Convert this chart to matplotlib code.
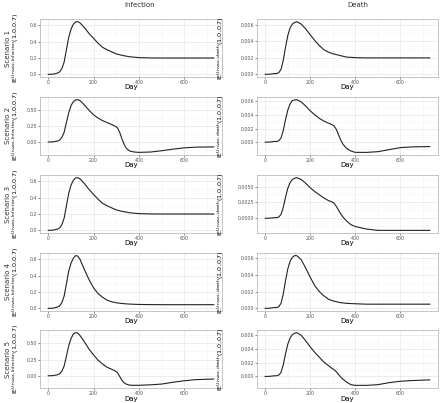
import matplotlib
matplotlib.use("Agg")
import matplotlib.pyplot as plt
from matplotlib.ticker import MultipleLocator, FixedLocator

days_a = [0, 20, 40, 50, 60, 70, 80, 90, 100, 110, 120, 130, 140, 160, 180, 200,
          220, 240, 260, 280, 300, 330, 360, 400, 450, 500, 600, 730]
days_b = [0, 20, 40, 50, 60, 70, 80, 90, 100, 110, 120, 130, 140, 160, 180, 200,
          220, 240, 260, 280, 295, 305, 315, 325, 335, 345, 360, 380, 400, 450,
          500, 550, 600, 650, 730]

inf_s1 = [0, 0.002, 0.015, 0.03, 0.07, 0.15, 0.30, 0.45, 0.55, 0.61, 0.64, 0.645,
          0.63, 0.57, 0.50, 0.44, 0.38, 0.33, 0.30, 0.275, 0.25, 0.23, 0.215,
          0.205, 0.201, 0.2, 0.2, 0.2]
inf_s3 = [0, 0.002, 0.015, 0.03, 0.07, 0.15, 0.30, 0.45, 0.55, 0.61, 0.64, 0.645,
          0.63, 0.57, 0.50, 0.44, 0.38, 0.33, 0.30, 0.275, 0.25, 0.23, 0.215,
          0.205, 0.201, 0.2, 0.2, 0.2]
inf_s4 = [0, 0.002, 0.015, 0.03, 0.07, 0.15, 0.30, 0.45, 0.55, 0.61, 0.645, 0.64,
          0.60, 0.47, 0.35, 0.25, 0.18, 0.135, 0.10, 0.08, 0.068, 0.058, 0.052,
          0.048, 0.046, 0.045, 0.045, 0.045]
inf_s2 = [0, 0.002, 0.015, 0.03, 0.07, 0.15, 0.30, 0.45, 0.56, 0.62, 0.65, 0.655,
          0.64, 0.57, 0.49, 0.42, 0.37, 0.33, 0.30, 0.27, 0.245, 0.22, 0.15, 0.05,
          -0.04, -0.10, -0.14, -0.155, -0.16, -0.155, -0.135, -0.11, -0.09,
          -0.08, -0.075]
inf_s5 = [0, 0.002, 0.015, 0.03, 0.07, 0.15, 0.30, 0.46, 0.57, 0.64, 0.665, 0.66,
          0.62, 0.52, 0.41, 0.32, 0.24, 0.18, 0.13, 0.10, 0.075, 0.05, -0.01,
          -0.07, -0.11, -0.13, -0.145, -0.148, -0.147, -0.14, -0.128, -0.10,
          -0.077, -0.06, -0.05]

dth_s1 = [0, 0.00002, 0.0001, 0.0001, 0.0002, 0.0006, 0.0017, 0.0033, 0.0047,
          0.0056, 0.0061, 0.0063, 0.0064, 0.0061, 0.0055, 0.0048, 0.0041, 0.0035,
          0.0030, 0.0027, 0.0025, 0.0023, 0.0021, 0.00203, 0.002, 0.002, 0.002,
          0.002]
dth_s4 = [0, 0.00002, 0.0001, 0.0001, 0.0002, 0.0006, 0.0017, 0.0033, 0.0047,
          0.0056, 0.0061, 0.0063, 0.0063, 0.0058, 0.0048, 0.0037, 0.0027, 0.0020,
          0.0015, 0.0011, 0.0009, 0.0007, 0.0006, 0.00055, 0.0005, 0.0005,
          0.0005, 0.0005]
dth_s2 = [0, 0.00002, 0.0001, 0.0001, 0.0002, 0.0006, 0.0017, 0.0033, 0.0047,
          0.0056, 0.0061, 0.0062, 0.00625, 0.0059, 0.0053, 0.0046, 0.0040, 0.0035,
          0.0031, 0.0028, 0.0026, 0.0024, 0.0019, 0.0011, 0.0003, -0.0003,
          -0.0009, -0.0013, -0.0015, -0.0015, -0.0014, -0.0011, -0.0008,
          -0.0007, -0.00065]
dth_s3 = [0, 0.00002, 0.0001, 0.0001, 0.0002, 0.0006, 0.0017, 0.0033, 0.0047,
          0.0056, 0.0061, 0.0063, 0.0064, 0.0061, 0.0055, 0.0048, 0.0042, 0.0037,
          0.0032, 0.0028, 0.0026, 0.0024, 0.0019, 0.0013, 0.0007, 0.0002,
          -0.0004, -0.0010, -0.0013, -0.0017, -0.0019, -0.0019, -0.0019,
          -0.0019, -0.0019]
dth_s5 = [0, 0.00002, 0.0001, 0.0001, 0.0002, 0.0006, 0.0017, 0.0033, 0.0047,
          0.0056, 0.0061, 0.0063, 0.0064, 0.0060, 0.0052, 0.0043, 0.0035, 0.0028,
          0.0021, 0.0016, 0.0012, 0.0010, 0.0007, 0.0003, -0.0001, -0.0004,
          -0.0008, -0.0012, -0.0013, -0.0013, -0.0012, -0.0009, -0.0007,
          -0.0006, -0.0005]

scenarios = ["Scenario 1", "Scenario 2", "Scenario 3", "Scenario 4", "Scenario 5"]
infection = [(days_a, inf_s1), (days_b, inf_s2), (days_a, inf_s3), (days_a, inf_s4), (days_b, inf_s5)]
death = [(days_a, dth_s1), (days_b, dth_s2), (days_b, dth_s3), (days_a, dth_s4), (days_b, dth_s5)]
inf_ticks = [[0, 0.2, 0.4, 0.6], [0, 0.25, 0.5], [0, 0.2, 0.4, 0.6], [0, 0.2, 0.4, 0.6], [0, 0.25, 0.5]]
inf_fmt = ["%.1f", "%.2f", "%.1f", "%.1f", "%.2f"]
dth_ticks = [[0, 0.002, 0.004, 0.006], [0, 0.002, 0.004, 0.006], [0, 0.0025, 0.005],
             [0, 0.002, 0.004, 0.006], [0, 0.002, 0.004, 0.006]]
dth_fmt = ["%.3f", "%.3f", "%.4f", "%.3f", "%.3f"]

W, H = 440, 403
fig = plt.figure(figsize=(W / 100, H / 100), dpi=100)

tops = [19, 97, 175, 253, 330]
ph = 58
cols = [(40, 222), (257, 438)]
label_x = [21, 226]


def style(ax, ticks, fmt):
    ax.set_facecolor("white")
    for s in ax.spines.values():
        s.set_color("#BBBBBB")
        s.set_linewidth(0.6)
    ax.set_xlim(-36.5, 766.5)
    ax.xaxis.set_major_locator(FixedLocator([0, 200, 400, 600]))
    ax.xaxis.set_minor_locator(FixedLocator([100, 300, 500, 700]))
    ax.yaxis.set_major_locator(FixedLocator(ticks))
    step = ticks[1] - ticks[0]
    ax.yaxis.set_minor_locator(MultipleLocator(step / 2))
    ax.set_yticklabels([fmt % t for t in ticks])
    ax.set_xticklabels(["0", "200", "400", "600"])
    ax.grid(True, which="major", color="#E6E6E6", lw=0.5)
    ax.grid(True, which="minor", color="#F3F3F3", lw=0.4)
    ax.set_axisbelow(True)
    ax.tick_params(which="major", length=1.5, width=0.5, color="#555555",
                   labelsize=3.4, labelcolor="#555555", pad=0.6)
    ax.tick_params(which="minor", length=0)
    ax.set_xlabel("Day", fontsize=5.0)


for i in range(5):
    for j, (data, ticks, fmts, name) in enumerate([
            (infection, inf_ticks, inf_fmt, "Infection"),
            (death, dth_ticks, dth_fmt, "death")]):
        x0, x1 = cols[j]
        top = tops[i]
        ax = fig.add_axes([x0 / W, 1 - (top + ph) / H, (x1 - x0) / W, ph / H])
        d, v = data[i]
        ax.plot(d, v, color="#222222", lw=0.8)
        lo, hi = min(v), max(v)
        pad = (hi - lo) * 0.05
        ax.set_ylim(lo - pad, hi + pad)
        style(ax, ticks[i], fmts[i])
        ax.xaxis.set_label_coords((x0 + x1) / 2 / W, 1 - (top + ph + 7.5) / H,
                                  transform=fig.transFigure)
        ax.set_ylabel(r"IE$^{\mathregular{Unvax,%s}}$(1,0,0.7)" % name, fontsize=4.6)
        ax.yaxis.set_label_coords(label_x[j] / W, 1 - (top + ph / 2) / H,
                                  transform=fig.transFigure)
    fig.text(8 / W, 1 - (tops[i] + ph / 2) / H, scenarios[i], rotation=90,
             ha="center", va="center", fontsize=5.0, color="#333333")

fig.text(140 / W, 1 - 5 / H, "Infection", ha="center", va="center", fontsize=5.0, color="#333333")
fig.text(358 / W, 1 - 5 / H, "Death", ha="center", va="center", fontsize=5.0, color="#333333")

fig.savefig("out.png", dpi=100, facecolor="white")
